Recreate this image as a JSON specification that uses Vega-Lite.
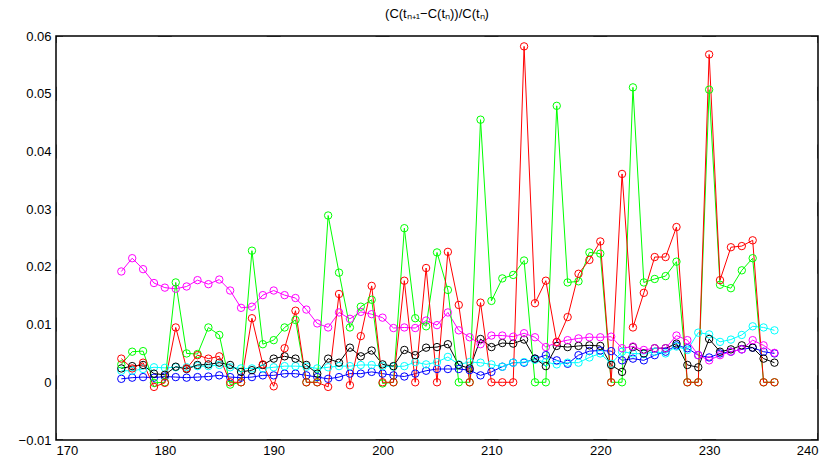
{
  "$schema": "https://vega.github.io/schema/vega-lite/v6.json",
  "width": 762,
  "height": 404,
  "autosize": {"type": "none"},
  "padding": {"left": 56, "top": 36, "right": 16, "bottom": 19},
  "background": "white",
  "view": {"stroke": "black", "strokeWidth": 1.5, "strokeOpacity": 1},
  "title": {"text": "(C(tₙ₊₁−C(tₙ))/C(tₙ)", "font": "Liberation Sans", "fontSize": 13, "fontWeight": "normal", "color": "black", "offset": 9},
  "datasets": {
    "series": [
    {"x":176,"red":0.0041,"green":0.0031,"magenta":0.0192,"black":0.0024,"cyan":0.0020,"blue":0.0006},
    {"x":177,"red":0.0024,"green":0.0053,"magenta":0.0215,"black":0.0028,"cyan":0.0020,"blue":0.0008},
    {"x":178,"red":0.0034,"green":0.0054,"magenta":0.0196,"black":0.0030,"cyan":0.0023,"blue":0.0009},
    {"x":179,"red":-0.0008,"green":-0.0001,"magenta":0.0172,"black":0.0015,"cyan":0.0026,"blue":0.0008},
    {"x":180,"red":-0.0001,"green":0.0000,"magenta":0.0164,"black":0.0013,"cyan":0.0025,"blue":0.0010},
    {"x":181,"red":0.0095,"green":0.0173,"magenta":0.0162,"black":0.0027,"cyan":0.0026,"blue":0.0009},
    {"x":182,"red":0.0024,"green":0.0050,"magenta":0.0166,"black":0.0023,"cyan":0.0026,"blue":0.0008},
    {"x":183,"red":0.0047,"green":0.0049,"magenta":0.0177,"black":0.0030,"cyan":0.0028,"blue":0.0009},
    {"x":184,"red":0.0041,"green":0.0095,"magenta":0.0170,"black":0.0031,"cyan":0.0028,"blue":0.0010},
    {"x":185,"red":0.0045,"green":0.0082,"magenta":0.0178,"black":0.0034,"cyan":0.0030,"blue":0.0012},
    {"x":186,"red":0.0000,"green":-0.0004,"magenta":0.0159,"black":0.0030,"cyan":0.0026,"blue":0.0009},
    {"x":187,"red":0.0000,"green":0.0000,"magenta":0.0129,"black":0.0018,"cyan":0.0024,"blue":0.0008},
    {"x":188,"red":0.0111,"green":0.0228,"magenta":0.0131,"black":0.0021,"cyan":0.0024,"blue":0.0009},
    {"x":189,"red":0.0031,"green":0.0066,"magenta":0.0151,"black":0.0030,"cyan":0.0024,"blue":0.0012},
    {"x":190,"red":-0.0007,"green":0.0073,"magenta":0.0159,"black":0.0041,"cyan":0.0026,"blue":0.0012},
    {"x":191,"red":0.0059,"green":0.0095,"magenta":0.0151,"black":0.0045,"cyan":0.0028,"blue":0.0015},
    {"x":192,"red":0.0124,"green":0.0108,"magenta":0.0146,"black":0.0041,"cyan":0.0028,"blue":0.0015},
    {"x":193,"red":0.0000,"green":0.0000,"magenta":0.0126,"black":0.0030,"cyan":0.0027,"blue":0.0012},
    {"x":194,"red":0.0000,"green":0.0000,"magenta":0.0102,"black":0.0015,"cyan":0.0024,"blue":0.0009},
    {"x":195,"red":-0.0008,"green":0.0289,"magenta":0.0095,"black":0.0041,"cyan":0.0026,"blue":0.0006},
    {"x":196,"red":0.0153,"green":0.0190,"magenta":0.0121,"black":0.0034,"cyan":0.0028,"blue":0.0009},
    {"x":197,"red":-0.0005,"green":0.0095,"magenta":0.0110,"black":0.0060,"cyan":0.0028,"blue":0.0015},
    {"x":198,"red":0.0080,"green":0.0131,"magenta":0.0122,"black":0.0045,"cyan":0.0030,"blue":0.0015},
    {"x":199,"red":0.0167,"green":0.0143,"magenta":0.0118,"black":0.0055,"cyan":0.0030,"blue":0.0018},
    {"x":200,"red":0.0000,"green":-0.0002,"magenta":0.0112,"black":0.0031,"cyan":0.0028,"blue":0.0015},
    {"x":201,"red":0.0000,"green":0.0000,"magenta":0.0094,"black":0.0028,"cyan":0.0027,"blue":0.0012},
    {"x":202,"red":0.0176,"green":0.0267,"magenta":0.0095,"black":0.0056,"cyan":0.0028,"blue":0.0010},
    {"x":203,"red":0.0000,"green":0.0111,"magenta":0.0094,"black":0.0047,"cyan":0.0035,"blue":0.0015},
    {"x":204,"red":0.0198,"green":0.0097,"magenta":0.0107,"black":0.0060,"cyan":0.0031,"blue":0.0020},
    {"x":205,"red":0.0000,"green":0.0225,"magenta":0.0099,"black":0.0061,"cyan":0.0035,"blue":0.0023},
    {"x":206,"red":0.0226,"green":0.0160,"magenta":0.0121,"black":0.0066,"cyan":0.0044,"blue":0.0023},
    {"x":207,"red":0.0134,"green":0.0000,"magenta":0.0090,"black":0.0030,"cyan":0.0031,"blue":0.0023},
    {"x":208,"red":0.0000,"green":0.0000,"magenta":0.0078,"black":0.0024,"cyan":0.0035,"blue":0.0021},
    {"x":209,"red":0.0138,"green":0.0455,"magenta":0.0066,"black":0.0075,"cyan":0.0034,"blue":0.0012},
    {"x":210,"red":0.0000,"green":0.0141,"magenta":0.0081,"black":0.0061,"cyan":0.0031,"blue":0.0018},
    {"x":211,"red":0.0000,"green":0.0180,"magenta":0.0081,"black":0.0068,"cyan":0.0027,"blue":0.0027},
    {"x":212,"red":0.0000,"green":0.0186,"magenta":0.0079,"black":0.0067,"cyan":0.0034,"blue":0.0034},
    {"x":213,"red":0.0582,"green":0.0211,"magenta":0.0085,"black":0.0074,"cyan":0.0035,"blue":0.0034},
    {"x":214,"red":0.0137,"green":0.0000,"magenta":0.0078,"black":0.0041,"cyan":0.0039,"blue":0.0041},
    {"x":215,"red":0.0176,"green":0.0000,"magenta":0.0061,"black":0.0028,"cyan":0.0035,"blue":0.0047},
    {"x":216,"red":0.0070,"green":0.0479,"magenta":0.0069,"black":0.0063,"cyan":0.0031,"blue":0.0038},
    {"x":217,"red":0.0113,"green":0.0173,"magenta":0.0073,"black":0.0061,"cyan":0.0034,"blue":0.0032},
    {"x":218,"red":0.0188,"green":0.0175,"magenta":0.0076,"black":0.0063,"cyan":0.0034,"blue":0.0047},
    {"x":219,"red":0.0212,"green":0.0225,"magenta":0.0078,"black":0.0064,"cyan":0.0043,"blue":0.0054},
    {"x":220,"red":0.0244,"green":0.0223,"magenta":0.0078,"black":0.0063,"cyan":0.0050,"blue":0.0055},
    {"x":221,"red":0.0000,"green":0.0000,"magenta":0.0079,"black":0.0030,"cyan":0.0032,"blue":0.0054},
    {"x":222,"red":0.0361,"green":0.0000,"magenta":0.0059,"black":0.0018,"cyan":0.0053,"blue":0.0038},
    {"x":223,"red":0.0095,"green":0.0511,"magenta":0.0062,"black":0.0061,"cyan":0.0050,"blue":0.0041},
    {"x":224,"red":0.0155,"green":0.0173,"magenta":0.0056,"black":0.0050,"cyan":0.0049,"blue":0.0038},
    {"x":225,"red":0.0217,"green":0.0179,"magenta":0.0059,"black":0.0059,"cyan":0.0053,"blue":0.0047},
    {"x":226,"red":0.0217,"green":0.0184,"magenta":0.0059,"black":0.0059,"cyan":0.0050,"blue":0.0053},
    {"x":227,"red":0.0269,"green":0.0209,"magenta":0.0081,"black":0.0067,"cyan":0.0062,"blue":0.0064},
    {"x":228,"red":0.0000,"green":0.0000,"magenta":0.0073,"black":0.0030,"cyan":0.0056,"blue":0.0059},
    {"x":229,"red":0.0000,"green":0.0000,"magenta":0.0047,"black":0.0026,"cyan":0.0086,"blue":0.0047},
    {"x":230,"red":0.0568,"green":0.0507,"magenta":0.0038,"black":0.0075,"cyan":0.0083,"blue":0.0043},
    {"x":231,"red":0.0177,"green":0.0169,"magenta":0.0047,"black":0.0053,"cyan":0.0070,"blue":0.0050},
    {"x":232,"red":0.0234,"green":0.0163,"magenta":0.0053,"black":0.0057,"cyan":0.0074,"blue":0.0053},
    {"x":233,"red":0.0236,"green":0.0194,"magenta":0.0057,"black":0.0064,"cyan":0.0082,"blue":0.0057},
    {"x":234,"red":0.0246,"green":0.0215,"magenta":0.0073,"black":0.0060,"cyan":0.0097,"blue":0.0060},
    {"x":235,"red":0.0000,"green":0.0000,"magenta":0.0064,"black":0.0041,"cyan":0.0095,"blue":0.0053},
    {"x":236,"red":0.0000,"green":0.0000,"magenta":0.0051,"black":0.0034,"cyan":0.0090,"blue":0.0050}
    ],
    "xticks": [
      {"t":170,"e":-0.01},{"t":180,"e":-0.01},{"t":190,"e":-0.01},{"t":200,"e":-0.01},{"t":210,"e":-0.01},{"t":220,"e":-0.01},{"t":230,"e":-0.01},{"t":240,"e":-0.01},
      {"t":170,"e":0.06},{"t":180,"e":0.06},{"t":190,"e":0.06},{"t":200,"e":0.06},{"t":210,"e":0.06},{"t":220,"e":0.06},{"t":230,"e":0.06},{"t":240,"e":0.06}
    ],
    "yticks": [
      {"e":170,"t":-0.01},{"e":170,"t":0},{"e":170,"t":0.01},{"e":170,"t":0.02},{"e":170,"t":0.03},{"e":170,"t":0.04},{"e":170,"t":0.05},{"e":170,"t":0.06},
      {"e":240,"t":-0.01},{"e":240,"t":0},{"e":240,"t":0.01},{"e":240,"t":0.02},{"e":240,"t":0.03},{"e":240,"t":0.04},{"e":240,"t":0.05},{"e":240,"t":0.06}
    ]
  },
  "layer": [
    {
      "data": {"name": "series"},
      "transform": [{"fold": ["blue", "cyan", "black", "magenta", "green", "red"], "as": ["s", "v"]}],
      "mark": {"type": "line", "strokeWidth": 1, "point": {"filled": false, "shape": "circle", "size": 55, "strokeWidth": 1}},
      "encoding": {
        "x": {"field": "x", "type": "quantitative", "scale": {"domain": [170, 240], "nice": false, "zero": false},
              "axis": {"values": [170, 180, 190, 200, 210, 220, 230, 240], "title": null, "grid": false, "domain": false, "ticks": false, "labelPadding": 4, "labelColor": "black", "labelFont": "Liberation Sans", "labelFontSize": 13}},
        "y": {"field": "v", "type": "quantitative", "scale": {"domain": [-0.01, 0.06], "nice": false, "zero": false},
              "axis": {"values": [-0.01, 0, 0.01, 0.02, 0.03, 0.04, 0.05, 0.06], "format": "~g", "title": null, "grid": false, "domain": false, "ticks": false, "labelPadding": 5, "labelColor": "black", "labelFont": "Liberation Sans", "labelFontSize": 13}},
        "color": {"field": "s", "type": "nominal", "scale": {"domain": ["blue", "cyan", "black", "magenta", "green", "red"], "range": ["#0000ff", "#00ffff", "#000000", "#ff00ff", "#00ff00", "#ff0000"]}, "legend": null},
        "order": {"field": "x", "type": "quantitative"}
      }
    },
    {
      "data": {"name": "xticks"},
      "mark": {"type": "tick", "orient": "horizontal", "size": 14, "thickness": 1, "color": "black", "opacity": 1, "clip": true},
      "encoding": {
        "x": {"field": "t", "type": "quantitative"},
        "y": {"field": "e", "type": "quantitative"}
      }
    },
    {
      "data": {"name": "yticks"},
      "mark": {"type": "tick", "orient": "vertical", "size": 14, "thickness": 1, "color": "black", "opacity": 1, "clip": true},
      "encoding": {
        "x": {"field": "e", "type": "quantitative"},
        "y": {"field": "t", "type": "quantitative"}
      }
    }
  ]
}
